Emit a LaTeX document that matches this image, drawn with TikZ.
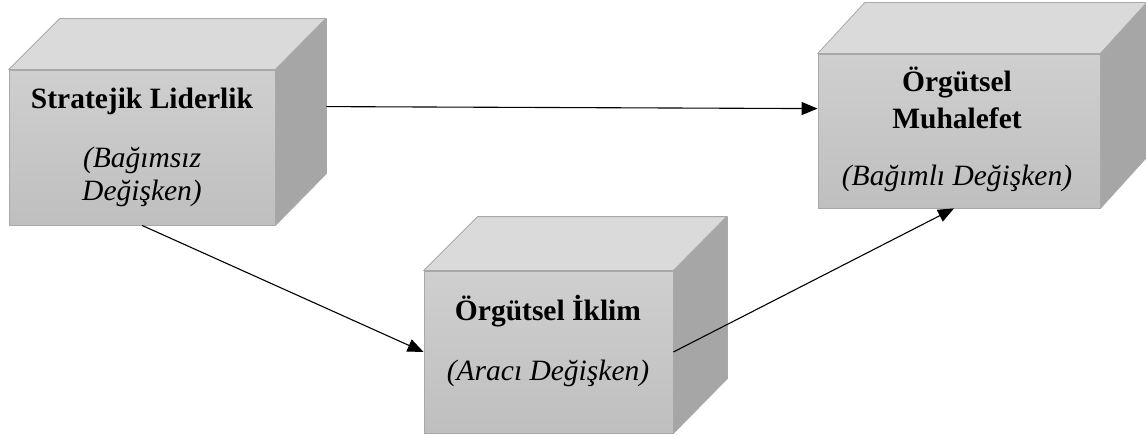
\documentclass[tikz,border=0pt]{standalone}
\usepackage{fontspec}
\setmainfont{Liberation Serif}
\usetikzlibrary{arrows.meta,calc}
\definecolor{frontTop}{HTML}{CFCFCF}
\definecolor{frontBot}{HTML}{BFBFBF}
\definecolor{topFace}{HTML}{DADADA}
\definecolor{sideFace}{HTML}{A6A6A6}
\definecolor{edgeGray}{HTML}{A8A8A8}
\tikzset{
  front/.style={rectangle, draw=edgeGray, line width=0.8pt, inner sep=0pt,
    top color=frontTop, bottom color=frontBot},
  topf/.style={fill=topFace, draw=edgeGray, line width=0.8pt, line join=round},
  sidef/.style={fill=sideFace, draw=edgeGray, line width=0.8pt, line join=round},
  title/.style={anchor=base, inner sep=0pt, font=\fontsize{29.5}{35}\selectfont\bfseries},
  sub/.style={anchor=base, inner sep=0pt, font=\fontsize{29.5}{35}\selectfont\itshape},
  conn/.style={line width=1.1pt, -{Triangle[length=16pt,width=13pt]}}
}
\begin{document}
\begin{tikzpicture}[x=1pt,y=1pt]
\useasboundingbox (0,0) rectangle (1146,-436);
% Box 1
\node[front, minimum width=266pt, minimum height=155pt] (b1) at (142,-147.5) {};
\draw[topf] (b1.north west) -- ++(51,51) -- ++(266,0) -- (b1.north east) -- cycle;
\draw[sidef] (b1.north east) -- ++(51,51) -- ++(0,-155) -- (b1.south east) -- cycle;
% Box 2
\node[front, minimum width=249pt, minimum height=162pt] (b2) at (548.5,-352) {};
\draw[topf] (b2.north west) -- ++(54,54) -- ++(249,0) -- (b2.north east) -- cycle;
\draw[sidef] (b2.north east) -- ++(54,54) -- ++(0,-162) -- (b2.south east) -- cycle;
% Box 3
\node[front, minimum width=282pt, minimum height=154pt] (b3) at (959,-131) {};
\draw[topf] (b3.north west) -- ++(47,51) -- ++(282,0) -- (b3.north east) -- cycle;
\draw[sidef] (b3.north east) -- ++(47,51) -- ++(0,-154) -- (b3.south east) -- cycle;
% Texts
\node[title] (t1a) at (142,-108) {Stratejik Liderlik};
\node[sub] (t1b) at (142,-167) {(Bağımsız};
\node[sub] (t1c) at (142,-200) {Değişken)};
\node[title] (t2a) at (548,-320) {Örgütsel İklim};
\node[sub] (t2b) at (548,-380) {(Aracı Değişken)};
\node[title] (t3a) at (957,-92) {Örgütsel};
\node[title] (t3b) at (957,-128) {Muhalefet};
\node[sub] (t3c) at (957,-185) {(Bağımlı Değişken)};
% Connectors
\coordinate (a1s) at ($(b1.north east)+(51,-37)$);
\coordinate (a1e) at ($(b3.north west)+(0,-55)$);
\coordinate (a3e) at ($(b3.south)+(-5,0)$);
\draw[conn] (a1s) -- (a1e);
\draw[conn] (b1.south) -- (b2.west);
\draw[conn] (b2.east) -- (a3e);
\end{tikzpicture}
\end{document}
